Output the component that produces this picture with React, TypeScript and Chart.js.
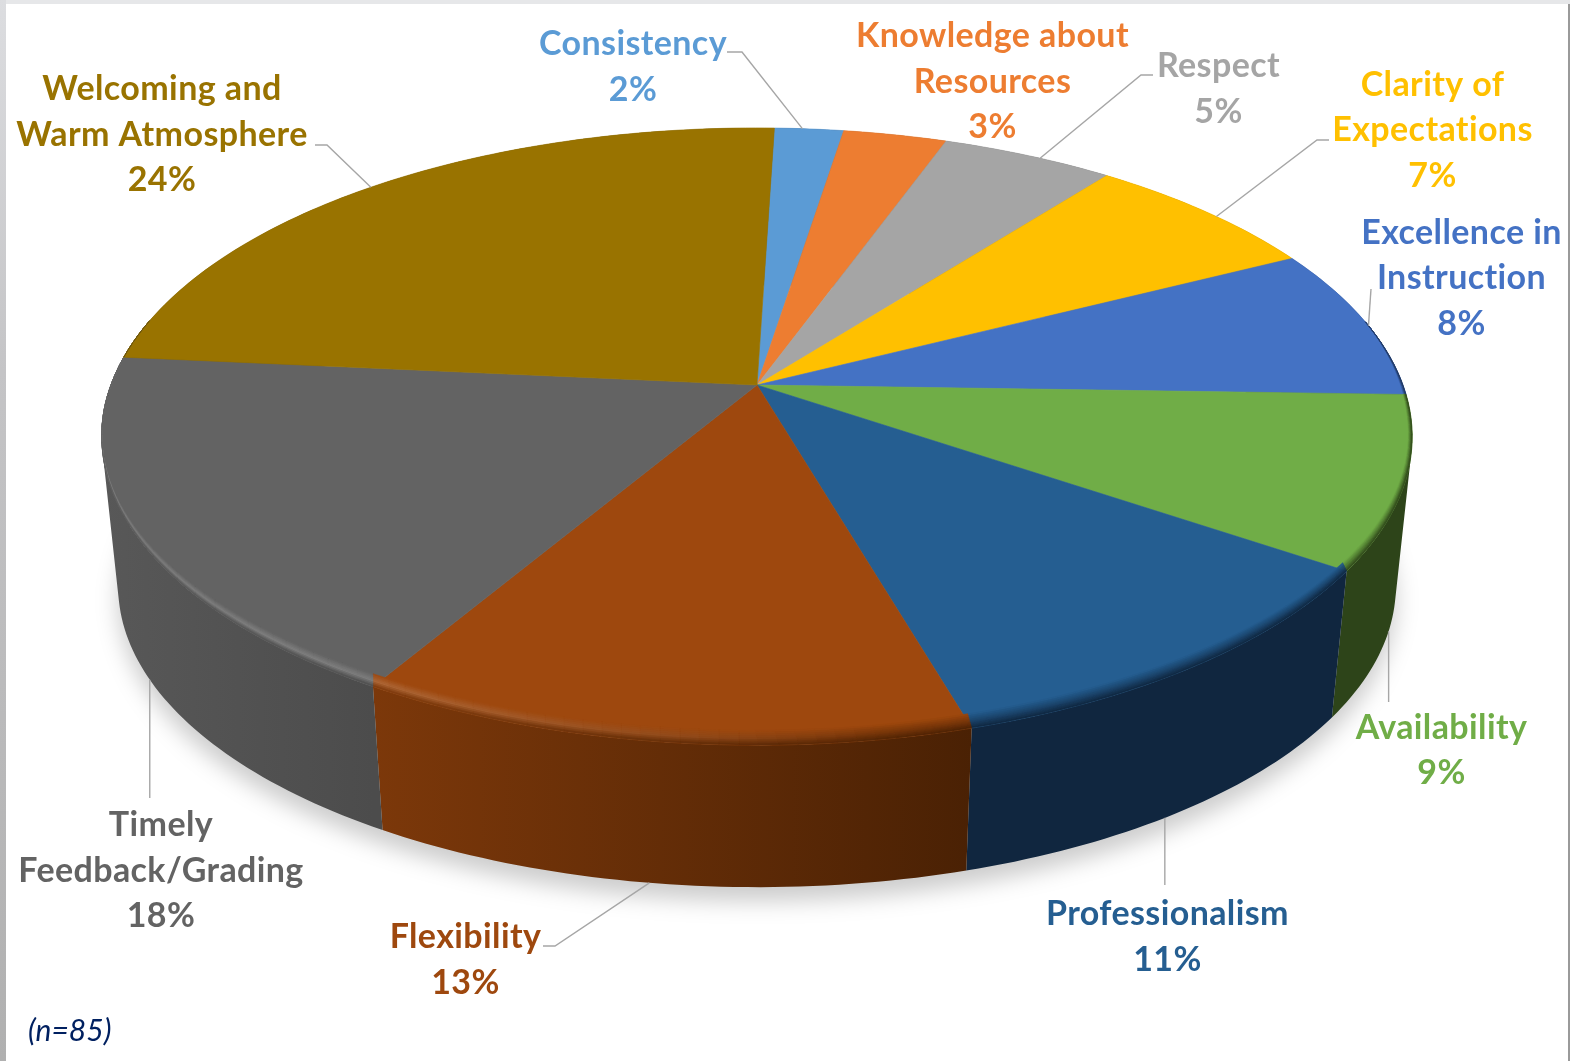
import React, { useEffect, useRef } from "react";
import { Chart, registerables } from "chart.js";

Chart.register(...registerables);

// Share of responses per attribute, in percent.
const categories = [
  "Consistency",
  "Knowledge about Resources",
  "Respect",
  "Clarity of Expectations",
  "Excellence in Instruction",
  "Availability",
  "Professionalism",
  "Flexibility",
  "Timely Feedback/Grading",
  "Welcoming and Warm Atmosphere",
];
const percentages = [2, 3, 5, 7, 8, 9, 11, 13, 18, 24];
const sampleNote = "(n=85)";

// Office-style accent colours for the pie top and its labels.
const faceColors = [
  "#5B9BD5", "#ED7D31", "#A5A5A5", "#FFC000", "#4472C4",
  "#70AD47", "#255E91", "#9E480E", "#636363", "#997300",
];
const wallLeftColors = [
  "#2f5577", "#83451b", "#5b5b5b", "#8d6a00", "#263f6d",
  "#2d4419", "#10263f", "#7c380a", "#585858", "#554000",
];
const wallRightColors = [
  "#2f5577", "#83451b", "#5b5b5b", "#8d6a00", "#1e3358",
  "#2d4419", "#10263f", "#4a2104", "#4c4c4c", "#554000",
];

// Wrapped label text, keyed by position in `categories`.
const labelLines = [
  ["Consistency"],
  ["Knowledge about", "Resources"],
  ["Respect"],
  ["Clarity of", "Expectations"],
  ["Excellence in", "Instruction"],
  ["Availability"],
  ["Professionalism"],
  ["Flexibility"],
  ["Timely", "Feedback/Grading"],
  ["Welcoming and", "Warm Atmosphere"],
];
const labelCenters = [633, 992.5, 1218.5, 1432.5, 1461.5, 1441.5, 1167.5, 465.5, 161, 162];
const labelFirstBaselines = [55, 47, 77, 95.5, 243.5, 738.5, 925, 948, 836, 100];

// Leader polylines: the rim they start from, a small angular offset from the
// slice's middle in degrees, then their bends (x of -1 keeps the line vertical).
type Leader = { plane: "top" | "bottom" | null; nudge: number; bends: number[][] };
const leaders: Leader[] = [
  { plane: "top", nudge: -0.7, bends: [[742, 52], [727, 52]] },
  { plane: null, nudge: 0, bends: [] },
  { plane: "top", nudge: 1.3, bends: [[1141, 75], [1153, 75]] },
  { plane: "top", nudge: 1.3, bends: [[1317, 140], [1329, 140]] },
  { plane: "top", nudge: 0.8, bends: [[1371, 289]] },
  { plane: "bottom", nudge: 0, bends: [[-1, 702]] },
  { plane: "bottom", nudge: 2.1, bends: [[-1, 885]] },
  { plane: "bottom", nudge: 1, bends: [[555, 946], [543, 946]] },
  { plane: "bottom", nudge: 0, bends: [[-1, 798]] },
  { plane: "top", nudge: -0.8, bends: [[327, 145], [315, 145]] },
];

// Perspective model of the disc.
const CX = 757;
const TOP_CY = 385;
const BOTTOM_CY = 536;
const HALF_W = 646;
const HALF_D = 300;
const PERSPECTIVE = 0.167;
const BOTTOM_SCALE = 0.975;
const BEVEL_DEPTH = 15;
const BEVEL_INSET = 4;

type Pt = [number, number];

const onTop = (a: number): Pt => {
  const u = Math.cos(a);
  const v = Math.sin(a);
  const w = 1 - PERSPECTIVE * v;
  return [CX + (HALF_W * u) / w, TOP_CY + (HALF_D * v) / w];
};
const onBottom = (a: number): Pt => {
  const u = Math.cos(a);
  const v = Math.sin(a);
  const w = 1 - PERSPECTIVE * v;
  return [CX + (BOTTOM_SCALE * HALF_W * u) / w, BOTTOM_CY + (BOTTOM_SCALE * HALF_D * v) / w];
};

const rgb = (hex: string) => [1, 3, 5].map((i) => parseInt(hex.slice(i, i + 2), 16));
const mix = (a: number[], b: number[], t: number) => a.map((c, i) => c + (b[i] - c) * t);
const css = (c: number[]) => `rgb(${c.map((n) => Math.round(n)).join(",")})`;
const clamp01 = (n: number) => Math.max(0, Math.min(1, n));

const arcSamples = (start: number, end: number, step = Math.PI / 180) => {
  const out: number[] = [];
  const n = Math.max(2, Math.ceil((end - start) / step));
  for (let i = 0; i <= n; i++) out.push(start + ((end - start) * i) / n);
  return out;
};

const addPolygon = (ctx: CanvasRenderingContext2D, pts: Pt[]) => {
  pts.forEach(([x, y], i) => (i ? ctx.lineTo(x, y) : ctx.moveTo(x, y)));
  ctx.closePath();
};

const tracePolygon = (ctx: CanvasRenderingContext2D, pts: Pt[]) => {
  ctx.beginPath();
  addPolygon(ctx, pts);
};

// Winding of a polygon, used to keep a path's subpaths from cancelling out.
const signedArea = (pts: Pt[]) =>
  pts.reduce((sum, [x, y], i) => {
    const [nx, ny] = pts[(i + 1) % pts.length];
    return sum + x * ny - nx * y;
  }, 0);

const paintFrame = (ctx: CanvasRenderingContext2D, w: number, h: number) => {
  ctx.fillStyle = "#ffffff";
  ctx.fillRect(0, 0, w, h);
  ctx.fillStyle = "#e6e7e9";
  ctx.fillRect(0, 0, w, 4);
  const side = ctx.createLinearGradient(0, 0, 0, h);
  side.addColorStop(0, "#dcdde0");
  side.addColorStop(0.35, "#c4c4c6");
  side.addColorStop(1, "#b0b0b0");
  ctx.fillStyle = side;
  ctx.fillRect(0, 0, 6, h);
  ctx.fillStyle = "#9a9a9a";
  ctx.fillRect(w - 2, 4, 2, h - 4);
};

const paintShadow = (ctx: CanvasRenderingContext2D) => {
  ctx.save();
  ctx.filter = "blur(11px)";
  ctx.fillStyle = "rgba(0,0,0,0.2)";
  const ring = arcSamples(0, Math.PI * 2).map((a): Pt => {
    const [x, y] = onBottom(a);
    return [x, y + 14];
  });
  tracePolygon(ctx, ring);
  ctx.fill();
  ctx.restore();
};

const paintDisc = (chart: Chart) => {
  const ctx = chart.ctx;
  const arcs = chart.getDatasetMeta(0).data as any[];
  paintShadow(ctx);

  // Side walls: one path of same-winding quads per slice, shaded from left to right.
  arcs.forEach((arc, i) => {
    const angles = arcSamples(arc.startAngle, arc.endAngle);
    const xs = angles.map((a) => onTop(a)[0]);
    const grad = ctx.createLinearGradient(Math.min(...xs), 0, Math.max(...xs) + 1, 0);
    grad.addColorStop(0, wallLeftColors[i]);
    grad.addColorStop(1, wallRightColors[i]);
    ctx.beginPath();
    for (let s = 0; s < angles.length - 1; s++) {
      const quad: Pt[] = [
        onTop(angles[s]),
        onTop(angles[s + 1]),
        onBottom(angles[s + 1]),
        onBottom(angles[s]),
      ];
      addPolygon(ctx, signedArea(quad) < 0 ? quad.reverse() : quad);
    }
    ctx.fillStyle = grad;
    ctx.fill();
  });

  // Flat top faces.
  arcs.forEach((arc, i) => {
    const pts: Pt[] = [[CX, TOP_CY], ...arcSamples(arc.startAngle, arc.endAngle).map((a) => onTop(a))];
    tracePolygon(ctx, pts);
    ctx.fillStyle = faceColors[i];
    ctx.strokeStyle = faceColors[i];
    ctx.lineWidth = 0.6;
    ctx.fill();
    ctx.stroke();
  });

  // Rounded rim between each face and its wall, catching light on the left.
  const bands = 8;
  arcs.forEach((arc, i) => {
    const face = rgb(faceColors[i]);
    const angles = arcSamples(arc.startAngle, arc.endAngle, Math.PI / 120);
    const wallL = rgb(wallLeftColors[i]);
    const wallR = rgb(wallRightColors[i]);
    const xs = angles.map((a) => onTop(a)[0]);
    const minX = Math.min(...xs);
    const maxX = Math.max(...xs) + 1;
    const rimPoint = (a: number, t: number): Pt => {
      const [x, y] = onTop(a);
      const v = Math.sin(a);
      const c = Math.cos(a);
      const inset = (c > 0 ? BEVEL_INSET : 0) * clamp01((v + 0.2) / 0.3);
      return [x - inset * (1 - t), y - BEVEL_DEPTH * Math.max(0, v) * (1 - t)];
    };
    for (let s = 0; s < angles.length - 1; s++) {
      const a0 = angles[s];
      const a1 = angles[s + 1];
      if (Math.sin(a1) < -0.2 && Math.sin(a0) < -0.2) continue;
      const midA = (a0 + a1) / 2;
      const wall = mix(wallL, wallR, clamp01((onTop(midA)[0] - minX) / (maxX - minX)));
      const glow = clamp01((0.15 - Math.cos(midA)) / 0.7);
      const crest = mix(mix(face, wall, 0.5), mix(face, [255, 255, 255], 0.18), glow);
      for (let b = 0; b < bands; b++) {
        const t0 = b / bands;
        const t1 = (b + 1) / bands;
        const tm = (t0 + t1) / 2;
        const color = tm < 0.55 ? mix(face, crest, tm / 0.55) : mix(crest, wall, (tm - 0.55) / 0.45);
        tracePolygon(ctx, [rimPoint(a0, t0), rimPoint(a1, t0), rimPoint(a1, t1), rimPoint(a0, t1)]);
        ctx.fillStyle = css(color);
        ctx.strokeStyle = css(color);
        ctx.lineWidth = 0.5;
        ctx.fill();
        ctx.stroke();
      }
    }
  });
};

const paintLabels = (chart: Chart) => {
  const ctx = chart.ctx;
  const arcs = chart.getDatasetMeta(0).data as any[];

  ctx.save();
  ctx.strokeStyle = "#a6a6a6";
  ctx.lineWidth = 1.4;
  leaders.forEach((leader, i) => {
    if (!leader.plane) return;
    const mid = (arcs[i].startAngle + arcs[i].endAngle) / 2 + (leader.nudge * Math.PI) / 180;
    const start = leader.plane === "top" ? onTop(mid) : onBottom(mid);
    ctx.beginPath();
    ctx.moveTo(start[0], start[1]);
    leader.bends.forEach(([x, y]) => ctx.lineTo(x < 0 ? start[0] : x, y));
    ctx.stroke();
  });

  ctx.textAlign = "center";
  ctx.textBaseline = "alphabetic";
  ctx.font = 'bold 34px Lato, "Open Sans", sans-serif';
  (ctx as any).letterSpacing = "0.4px";
  categories.forEach((_, i) => {
    ctx.fillStyle = faceColors[i];
    const lines = [...labelLines[i], `${percentages[i]}%`];
    lines.forEach((line, n) => {
      ctx.fillText(line, labelCenters[i], labelFirstBaselines[i] + n * 45.6);
    });
  });

  ctx.textAlign = "left";
  ctx.fillStyle = "#002060";
  ctx.font = 'italic 30px Lato, "Open Sans", sans-serif';
  (ctx as any).letterSpacing = "0px";
  ctx.fillText(sampleNote, 28, 1041);
  ctx.restore();
};

const discPlugin = {
  id: "perspectiveDisc",
  beforeDraw(chart: Chart) {
    paintFrame(chart.ctx, chart.width, chart.height);
  },
  beforeDatasetDraw(chart: Chart) {
    paintDisc(chart);
    return false;
  },
  afterDatasetsDraw(chart: Chart) {
    paintLabels(chart);
  },
};

export default function App() {
  const canvasRef = useRef<HTMLCanvasElement | null>(null);

  useEffect(() => {
    if (!canvasRef.current) return;
    const chart = new Chart(canvasRef.current, {
      type: "pie",
      data: {
        labels: categories,
        datasets: [{ data: percentages, backgroundColor: faceColors, borderWidth: 0 }],
      },
      options: {
        animation: false,
        responsive: false,
        events: [],
        rotation: 1.8,
        plugins: { legend: { display: false }, tooltip: { enabled: false } },
      },
      plugins: [discPlugin],
    });
    return () => chart.destroy();
  }, []);

  return (
    <div style={{ position: "fixed", left: 0, top: 0, width: 1570, height: 1061 }}>
      <canvas ref={canvasRef} width={1570} height={1061} style={{ display: "block" }} />
    </div>
  );
}
